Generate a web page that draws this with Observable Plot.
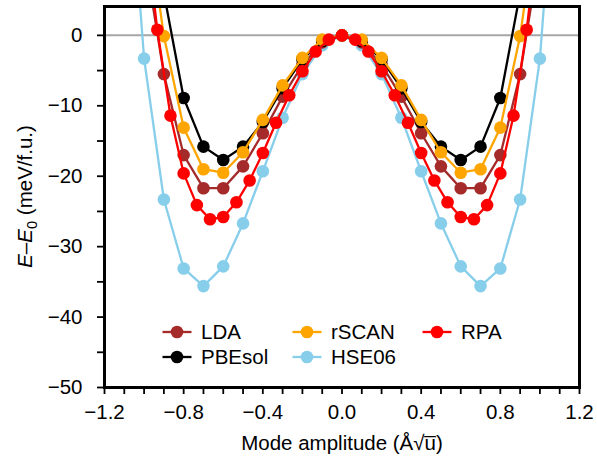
<!DOCTYPE html>
<html>
<head>
<meta charset="utf-8">
<script src="https://cdn.jsdelivr.net/npm/d3@7"></script>
<script src="https://cdn.jsdelivr.net/npm/@observablehq/plot@0.6"></script>
<style>
  html, body { margin: 0; padding: 0; background: white; }
  #chart { width: 597px; height: 466px; }
</style>
</head>
<body>
<div id="chart"></div>
<script>
// ---- Data ----
const ampHSE = [-1.1,-1.0,-0.9,-0.8,-0.7,-0.6,-0.5,-0.4,-0.3,-0.2,-0.1,0,0.1,0.2,0.3,0.4,0.5,0.6,0.7,0.8,0.9,1.0,1.1];
const hse06  = [34,-3.3,-23.3,-33.1,-35.6,-32.8,-26.7,-19.3,-11.7,-5.5,-1.4,0,-1.4,-5.5,-11.7,-19.3,-26.7,-32.8,-35.6,-33.1,-23.3,-3.3,34];

const ampGrid = [-1.0,-0.9,-0.8,-0.7,-0.6,-0.5,-0.4,-0.3,-0.2,-0.1,0,0.1,0.2,0.3,0.4,0.5,0.6,0.7,0.8,0.9,1.0];
const lda    = [12,-5.5,-17.0,-21.7,-21.7,-18.6,-13.9,-8.7,-4.2,-1.0,0,-1.0,-4.2,-8.7,-13.9,-18.6,-21.7,-21.7,-17.0,-5.5,12];
const rscan  = [20,-0.1,-13.1,-19.0,-19.5,-16.6,-12.0,-7.1,-3.2,-0.6,0,-0.6,-3.2,-7.1,-12.0,-16.6,-19.5,-19.0,-13.1,-0.1,20];

const ampPBE = [-0.9,-0.8,-0.7,-0.6,-0.5,-0.4,-0.3,-0.2,-0.1,0,0.1,0.2,0.3,0.4,0.5,0.6,0.7,0.8,0.9];
const pbesol = [6,-8.9,-15.8,-17.7,-15.8,-12.3,-7.5,-3.4,-0.8,0,-0.8,-3.4,-7.5,-12.3,-15.8,-17.7,-15.8,-8.9,6];

const ampRPA = [-1.0,-0.9333,-0.8667,-0.8,-0.7333,-0.6667,-0.6,-0.5333,-0.4667,-0.4,-0.3333,-0.2667,-0.2,-0.1333,-0.0667,0,
                0.0667,0.1333,0.2,0.2667,0.3333,0.4,0.4667,0.5333,0.6,0.6667,0.7333,0.8,0.8667,0.9333,1.0];
const rpa    = [17,0.8,-11.4,-19.6,-24.1,-26.1,-25.8,-23.7,-20.6,-16.7,-12.4,-8.5,-5.1,-2.3,-0.6,0,
                -0.6,-2.3,-5.1,-8.5,-12.4,-16.7,-20.6,-23.7,-25.8,-26.1,-24.1,-19.6,-11.4,0.8,17];

const seriesNames  = ["HSE06","LDA","PBEsol","rSCAN","RPA"];
const seriesColors = {LDA:"#a52a2a", PBEsol:"#000000", rSCAN:"#ffa500", HSE06:"#87ceeb", RPA:"#ff0000"};
const seriesData = {HSE06:[ampHSE,hse06], LDA:[ampGrid,lda], PBEsol:[ampPBE,pbesol], rSCAN:[ampGrid,rscan], RPA:[ampRPA,rpa]};

const legendOrder = [["LDA","PBEsol"],["rSCAN","HSE06"],["RPA"]];

const xTicks = [-1.2,-1.1,-1.0,-0.9,-0.8,-0.7,-0.6,-0.5,-0.4,-0.3,-0.2,-0.1,0,0.1,0.2,0.3,0.4,0.5,0.6,0.7,0.8,0.9,1.0,1.1,1.2];
const xLabeled = [-1.2,-0.8,-0.4,0,0.4,0.8,1.2];
const yTicks = [-50,-45,-40,-35,-30,-25,-20,-15,-10,-5,0];
const yLabeled = [-50,-40,-30,-20,-10,0];

const xTitle = "Mode amplitude (Å\u221Au\u0305)";

const FS = 20.5;

// ---- Build chart ----
const fmtX = d => xLabeled.some(v => Math.abs(v - d) < 1e-9) ? (d < -1e-9 ? "\u2212" : "") + Math.abs(d).toFixed(1) : "";
const fmtY = d => yLabeled.includes(d) ? (d < 0 ? "\u2212" : "") + Math.abs(d) : "";

const marks = [Plot.ruleY([0], {stroke: "#a6a6a6", strokeWidth: 2})];
for (const name of seriesNames) {
  const [xs, ys] = seriesData[name];
  const rows = xs.map((x, i) => ({x, y: ys[i]}));
  marks.push(Plot.line(rows, {x: "x", y: "y", stroke: seriesColors[name], strokeWidth: 2.3, clip: true}));
  marks.push(Plot.dot(rows, {x: "x", y: "y", fill: seriesColors[name], r: 6.3, clip: true}));
}
marks.push(
  Plot.axisX({ticks: xTicks, tickSize: 7, tickPadding: 10, tickFormat: fmtX, strokeWidth: 1.8, label: null, fontSize: FS}),
  Plot.axisY({ticks: yTicks, tickSize: 7, tickPadding: 15, tickFormat: fmtY, strokeWidth: 1.8, label: null, fontSize: FS}),
  Plot.text([xTitle], {frameAnchor: "bottom", dy: 62, lineAnchor: "bottom", fontSize: FS, fill: "black"}),
  Plot.frame({stroke: "black", strokeWidth: 3})
);

const chart = Plot.plot({
  width: 597, height: 466,
  marginLeft: 104, marginRight: 18, marginTop: 6, marginBottom: 79,
  x: {domain: [-1.2, 1.2]},
  y: {domain: [-50, 4.1]},
  style: {fontFamily: "'Liberation Sans', Arial, Helvetica, sans-serif", fontSize: FS + "px", background: "white", color: "black"},
  marks
});

document.getElementById("chart").appendChild(chart);

// ---- Y axis title with italic E and subscript ----
const svg = d3.select(chart);
const yTitle = svg.append("text")
  .attr("transform", "translate(24,196.5) rotate(-90)")
  .attr("text-anchor", "middle")
  .attr("dominant-baseline", "central")
  .attr("font-size", FS)
  .attr("fill", "black");
yTitle.append("tspan").attr("font-style", "italic").text("E");
yTitle.append("tspan").text("\u2013");
yTitle.append("tspan").attr("font-style", "italic").text("E");
yTitle.append("tspan").attr("baseline-shift", "sub").attr("font-size", FS * 0.72).text("0");
yTitle.append("tspan").text(" (meV/f.u.)");

// ---- Legend ----
const legendCols = [177, 307, 437];
const legendRows = [332, 357];
const lg = svg.append("g");
legendOrder.forEach((col, ci) => {
  col.forEach((name, ri) => {
    const cx = legendCols[ci], cy = legendRows[ri];
    lg.append("line").attr("x1", cx - 14.5).attr("x2", cx + 14.5).attr("y1", cy).attr("y2", cy)
      .attr("stroke", seriesColors[name]).attr("stroke-width", 2.3);
    lg.append("circle").attr("cx", cx).attr("cy", cy).attr("r", 6.3).attr("fill", seriesColors[name]);
    lg.append("text").attr("x", cx + 24).attr("y", cy).attr("dy", "0.35em")
      .attr("text-anchor", "start")
      .attr("font-size", FS).attr("fill", "black").text(name);
  });
});
</script>
</body>
</html>
